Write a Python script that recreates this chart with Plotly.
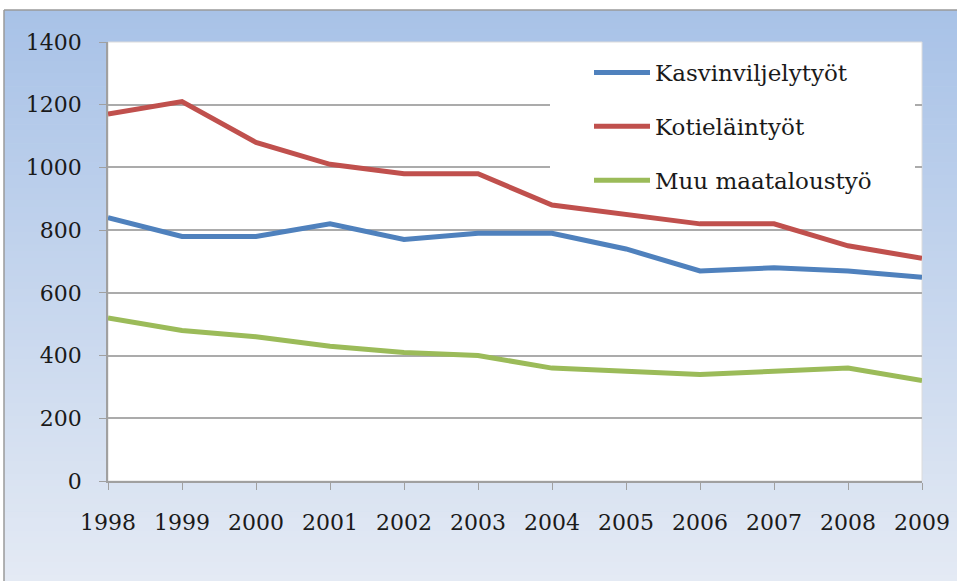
import plotly.graph_objects as go

years = [1998, 1999, 2000, 2001, 2002, 2003, 2004, 2005, 2006, 2007, 2008, 2009]
kasvinviljely = [840, 780, 780, 820, 770, 790, 790, 740, 670, 680, 670, 650]
kotielain = [1170, 1210, 1080, 1010, 980, 980, 880, 850, 820, 820, 750, 710]
muu = [520, 480, 460, 430, 410, 400, 360, 350, 340, 350, 360, 320]
names = ["Kasvinviljelytyöt", "Kotieläintyöt", "Muu maataloustyö"]
colors = ["#4F81BD", "#C0504D", "#9BBB59"]
y_ticks = [0, 200, 400, 600, 800, 1000, 1200, 1400]

W, H = 957, 581
L, R, T, B = 108, 922, 42, 481  # plot area in px

def px(xp):
    return (xp - L) / (R - L)

def py(yp):
    return (B - yp) / (B - T)

fig = go.Figure()
for i, (vals, name) in enumerate(zip([kasvinviljely, kotielain, muu], names)):
    fig.add_trace(go.Scatter(
        x=years, y=vals, name=name, mode="lines",
        line=dict(color=colors[i], width=5),
        legendgroup=f"g{i}",
    ))

shapes = []
# gradient background frame
top_c = (168, 194, 231)
bot_c = (228, 234, 244)
y0p, y1p = 10, 581
n = 90
for k in range(n):
    a = y0p + (y1p - y0p) * k / n
    b = y0p + (y1p - y0p) * (k + 1) / n + 0.6
    f = (k + 0.5) / n
    c = tuple(round(top_c[j] + (bot_c[j] - top_c[j]) * f) for j in range(3))
    shapes.append(dict(type="rect", xref="paper", yref="paper",
                       x0=px(4), x1=px(W + 5), y0=py(a), y1=py(b),
                       fillcolor=f"rgb{c}", line=dict(width=0), layer="below"))
# white outside of the frame
shapes.append(dict(type="rect", xref="paper", yref="paper", x0=px(-5), x1=px(W + 5),
                   y0=py(-5), y1=py(10), fillcolor="white", line=dict(width=0), layer="below"))
shapes.append(dict(type="rect", xref="paper", yref="paper", x0=px(-5), x1=px(4),
                   y0=py(-5), y1=py(H + 5), fillcolor="white", line=dict(width=0), layer="below"))
# frame border
shapes.append(dict(type="line", xref="paper", yref="paper", x0=px(4), x1=px(W + 5),
                   y0=py(10), y1=py(10), line=dict(color="#9a9a9a", width=1.5), layer="below"))
shapes.append(dict(type="line", xref="paper", yref="paper", x0=px(4), x1=px(4),
                   y0=py(10), y1=py(H + 5), line=dict(color="#9a9a9a", width=1.5), layer="below"))
# white plot area
shapes.append(dict(type="rect", xref="paper", yref="paper", x0=0, x1=1, y0=0, y1=1,
                   fillcolor="white", line=dict(color="#dcdcdc", width=1), layer="below"))
# legend box
shapes.append(dict(type="rect", xref="paper", yref="paper", x0=px(550), x1=px(915),
                   y0=py(45), y1=py(172), fillcolor="white", line=dict(width=0), layer="above"))

fig.update_layout(
    width=W, height=H,
    margin=dict(l=L, r=W - R, t=T, b=H - B, autoexpand=False),
    paper_bgcolor="#c9d7ee", plot_bgcolor="white",
    shapes=shapes,
    font=dict(family="DejaVu Serif", size=22, color="#1a1a1a"),
    showlegend=True,
    legend=dict(x=px(589), y=py(51), xanchor="left", yanchor="top",
                bgcolor="rgba(255,255,255,0)", font=dict(size=23),
                tracegroupgap=21, itemwidth=56, traceorder="grouped"),
    xaxis=dict(range=[1998, 2009], tickvals=years, ticktext=[str(y) for y in years],
               showgrid=False, zeroline=False, showline=True, linecolor="#a0a0a0",
               linewidth=1.5, ticks="outside", ticklen=7, tickcolor="#a0a0a0",
               ticklabelstandoff=14),
    yaxis=dict(range=[0, 1400], tickvals=y_ticks, showgrid=True, gridcolor="#ababab",
               gridwidth=1.5, zeroline=False, showline=True, linecolor="#a0a0a0",
               linewidth=1.5, ticks="outside", ticklen=7, tickcolor="#a0a0a0",
               ticklabelstandoff=13),
)
fig.write_html(
    "out.html",
    config={"displayModeBar": False},
    post_script=("var de=document.documentElement, bd=document.body;"
                 "de.style.overflow='hidden'; bd.style.overflow='hidden';"
                 "de.style.scrollbarWidth='none'; bd.style.scrollbarWidth='none';"
                 "bd.style.margin='0'; de.style.margin='0';"
                 "de.style.background='#c9d7ee';"),
)
